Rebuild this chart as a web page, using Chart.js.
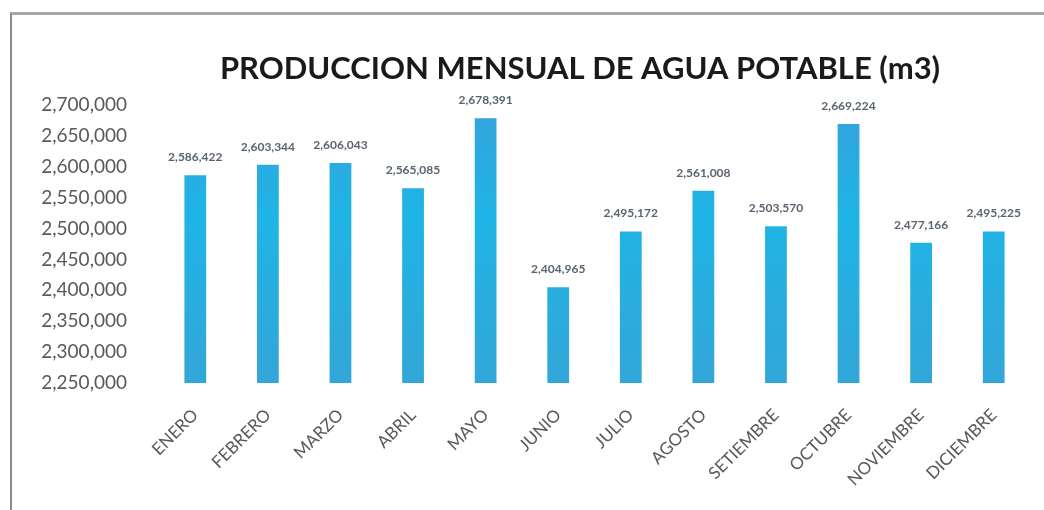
<!DOCTYPE html>
<html>
<head>
<meta charset="utf-8">
<script src="https://cdn.jsdelivr.net/npm/chart.js@4/dist/chart.umd.min.js"></script>
<style>
  html, body { margin: 0; padding: 0; background: #fff; }
  #wrap { position: relative; width: 1044px; height: 510px; }
  #frame { position: absolute; left: 10px; top: 12px; right: 0; bottom: 0;
           border-left: 2px solid #8c8c8c; border-top: 3px solid #a6a6a6; }
  canvas { position: absolute; left: 0; top: 0; }
</style>
</head>
<body>
<div id="wrap">
  <div id="frame"></div>
  <canvas id="chart" width="1044" height="510"></canvas>
</div>
<script>
const months = ['ENERO', 'FEBRERO', 'MARZO', 'ABRIL', 'MAYO', 'JUNIO', 'JULIO',
  'AGOSTO', 'SETIEMBRE', 'OCTUBRE', 'NOVIEMBRE', 'DICIEMBRE'];
const produccion = [2586422, 2603344, 2606043, 2565085, 2678391, 2404965, 2495172,
  2561008, 2503570, 2669224, 2477166, 2495225];
const yMin = 2250000;
const yMax = 2700000;
const yStep = 50000;
const titulo = 'PRODUCCION MENSUAL DE AGUA POTABLE (m3)';

const fmt = v => v.toLocaleString('en-US');

// etiquetas de valor encima de cada barra + titulo
const valueLabels = {
  id: 'valueLabels',
  afterDatasetsDraw(chart) {
    const ctx = chart.ctx;
    const meta = chart.getDatasetMeta(0);
    ctx.save();
    ctx.font = 'bold 12px Lato';
    ctx.fillStyle = '#5a6470';
    ctx.textAlign = 'center';
    ctx.textBaseline = 'bottom';
    meta.data.forEach((bar, i) => {
      ctx.fillText(fmt(produccion[i]), bar.x, bar.y - 12);
    });

    ctx.font = 'bold 31px Lato';
    ctx.fillStyle = '#1a1a1a';
    ctx.textBaseline = 'middle';
    ctx.fillText(titulo, 580, 69);
    ctx.restore();
  }
};

function barGradient(context) {
  const area = context.chart.chartArea;
  if (!area) return '#2aaee2';
  const g = context.chart.ctx.createLinearGradient(0, area.top, 0, area.bottom);
  g.addColorStop(0, '#35a3dc');
  g.addColorStop(0.4, '#1fb4e6');
  g.addColorStop(1, '#33a6d8');
  return g;
}

new Chart(document.getElementById('chart').getContext('2d'), {
  type: 'bar',
  data: {
    labels: months,
    datasets: [{
      data: produccion,
      backgroundColor: barGradient,
      barPercentage: 0.3,
      categoryPercentage: 1
    }]
  },
  options: {
    responsive: false,
    animation: false,
    layout: { padding: { top: 105, right: 14, left: 0, bottom: 0 } },
    plugins: {
      legend: { display: false },
      tooltip: { enabled: false }
    },
    scales: {
      x: {
        grid: { display: false },
        border: { display: false },
        ticks: {
          color: '#595959',
          font: { family: 'Lato', size: 17 },
          minRotation: 45,
          maxRotation: 45,
          padding: 14
        },
        afterFit(axis) { axis.height = 127; }
      },
      y: {
        min: yMin,
        max: yMax,
        grid: { display: false },
        border: { display: false },
        ticks: {
          stepSize: yStep,
          color: '#595959',
          font: { family: 'Lato', size: 19 },
          padding: 24,
          callback: v => fmt(v)
        },
        afterFit(axis) { axis.width = 159; }
      }
    }
  },
  plugins: [valueLabels]
});
</script>
</body>
</html>
